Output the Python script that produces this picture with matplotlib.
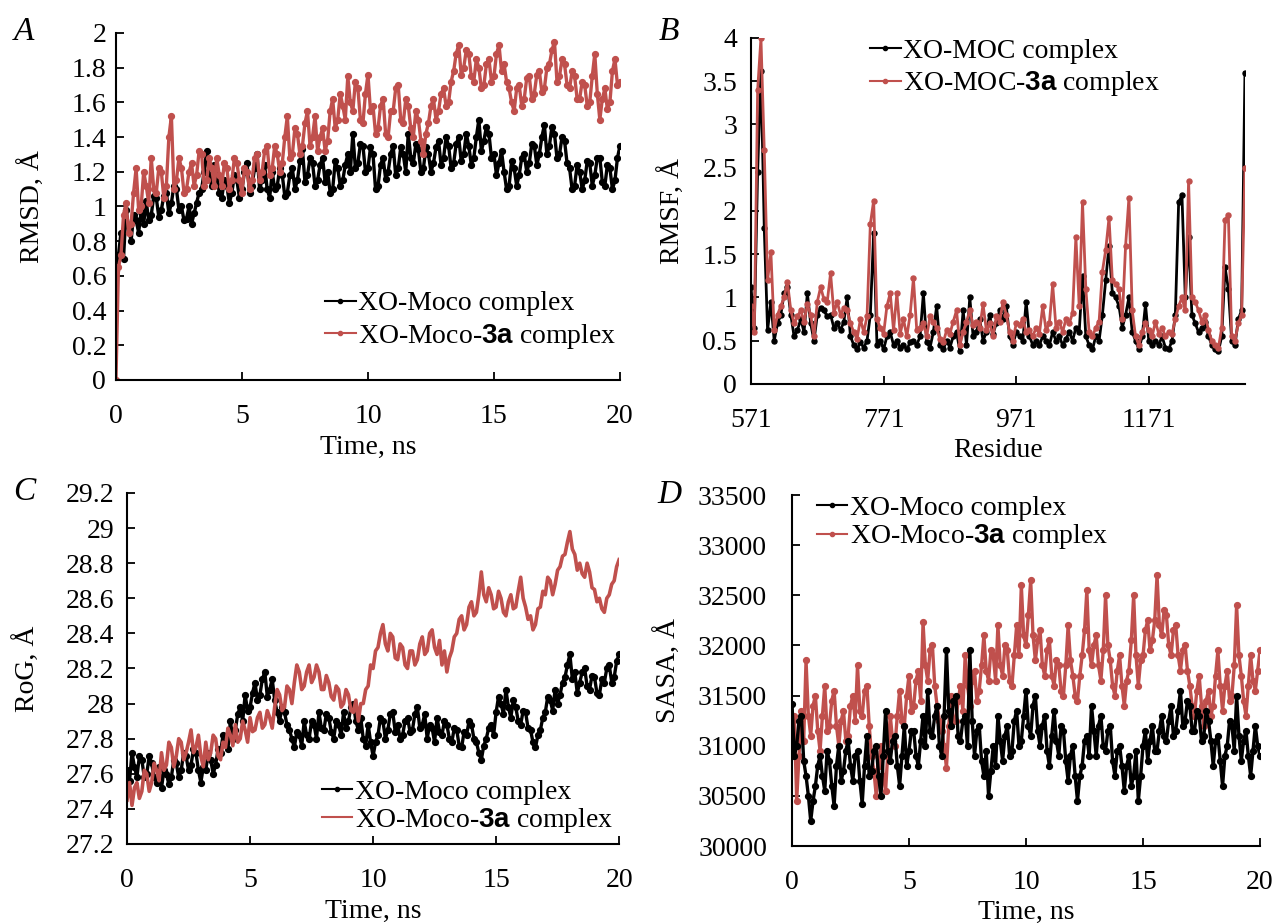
import numpy as np
import matplotlib
matplotlib.use("Agg")
import matplotlib.pyplot as plt

plt.rcParams['font.family'] = ['Liberation Serif', 'DejaVu Serif']
plt.rcParams['mathtext.fontset'] = 'custom'
plt.rcParams['mathtext.rm'] = 'Liberation Serif'
plt.rcParams['mathtext.bf'] = 'Liberation Sans:bold'

# ---- data (upper/lower edges of the noisy bands) ----
# A: RMSD (every 0.1 ns)
rmsd_moco = [0.63, 0.72, 0.85, 0.70, 0.98, 0.88, 0.80, 0.95, 0.92, 0.85,
             0.97, 0.90, 1.03, 0.92, 0.95, 1.06, 1.05, 0.94, 0.98, 1.06,
             1.08, 0.96, 1.02, 1.12, 1.10, 0.98, 1.00, 0.92, 0.93, 1.00,
             0.90, 0.96, 1.02, 1.08, 1.10, 1.20, 1.32, 1.18, 1.12, 1.24,
             1.18, 1.08, 1.05, 1.15, 1.12, 1.02, 1.08, 1.18, 1.15, 1.05,
             1.10, 1.20, 1.25, 1.08, 1.12, 1.22, 1.30, 1.10, 1.15, 1.24,
             1.10, 1.05, 1.20, 1.10, 1.12, 1.22, 1.18, 1.06, 1.08, 1.18,
             1.22, 1.10, 1.15, 1.26, 1.33, 1.14, 1.18, 1.28, 1.25, 1.12,
             1.15, 1.24, 1.28, 1.14, 1.20, 1.08, 1.10, 1.26, 1.22, 1.12,
             1.15, 1.24, 1.30, 1.20, 1.42, 1.22, 1.25, 1.36, 1.35, 1.20,
             1.22, 1.34, 1.30, 1.10, 1.12, 1.24, 1.28, 1.16, 1.20, 1.30,
             1.35, 1.18, 1.22, 1.34, 1.30, 1.20, 1.42, 1.28, 1.25, 1.36,
             1.33, 1.20, 1.22, 1.34, 1.30, 1.20, 1.25, 1.34, 1.38, 1.24,
             1.28, 1.40, 1.35, 1.22, 1.25, 1.36, 1.40, 1.26, 1.30, 1.42,
             1.35, 1.24, 1.28, 1.40, 1.50, 1.32, 1.38, 1.46, 1.42, 1.28,
             1.30, 1.18, 1.25, 1.32, 1.20, 1.10, 1.12, 1.26, 1.22, 1.12,
             1.18, 1.28, 1.30, 1.20, 1.25, 1.36, 1.35, 1.24, 1.30, 1.40,
             1.47, 1.30, 1.35, 1.46, 1.42, 1.28, 1.30, 1.40, 1.38, 1.25,
             1.22, 1.10, 1.12, 1.24, 1.20, 1.10, 1.15, 1.26, 1.25, 1.12,
             1.18, 1.28, 1.28, 1.14, 1.12, 1.24, 1.22, 1.10, 1.15, 1.28,
             1.35]
rmsd_3a = [0.00, 0.65, 0.72, 0.95, 1.02, 0.85, 0.90, 1.08, 1.22, 0.98,
           1.00, 1.20, 1.12, 1.02, 1.28, 1.10, 1.08, 1.22, 1.20, 1.05,
           1.12, 1.40, 1.52, 1.10, 1.15, 1.28, 1.22, 1.08, 1.10, 1.20,
           1.25, 1.12, 1.18, 1.32, 1.30, 1.12, 1.15, 1.28, 1.22, 1.12,
           1.28, 1.18, 1.12, 1.25, 1.22, 1.10, 1.15, 1.28, 1.25, 1.15,
           1.08, 1.22, 1.20, 1.10, 1.15, 1.28, 1.30, 1.15, 1.20, 1.32,
           1.35, 1.18, 1.22, 1.35, 1.30, 1.20, 1.25, 1.40, 1.52, 1.28,
           1.30, 1.45, 1.42, 1.30, 1.35, 1.48, 1.55, 1.35, 1.40, 1.52,
           1.32, 1.40, 1.45, 1.32, 1.38, 1.55, 1.62, 1.45, 1.50, 1.65,
           1.58, 1.50, 1.75, 1.60, 1.55, 1.72, 1.68, 1.50, 1.48, 1.65,
           1.76, 1.55, 1.58, 1.42, 1.45, 1.58, 1.62, 1.42, 1.40, 1.55,
           1.55, 1.68, 1.70, 1.50, 1.48, 1.62, 1.58, 1.45, 1.40, 1.55,
           1.50, 1.38, 1.30, 1.42, 1.48, 1.58, 1.62, 1.50, 1.55, 1.65,
           1.68, 1.58, 1.60, 1.72, 1.78, 1.88, 1.93, 1.76, 1.80, 1.90,
           1.88, 1.75, 1.72, 1.85, 1.80, 1.68, 1.70, 1.82, 1.85, 1.72,
           1.75, 1.88, 1.93, 1.78, 1.82, 1.72, 1.68, 1.60, 1.55, 1.68,
           1.70, 1.58, 1.62, 1.74, 1.75, 1.62, 1.65, 1.76, 1.78, 1.66,
           1.68, 1.80, 1.82, 1.90, 1.95, 1.72, 1.75, 1.85, 1.82, 1.70,
           1.68, 1.78, 1.75, 1.62, 1.62, 1.72, 1.70, 1.58, 1.60, 1.75,
           1.88, 1.65, 1.50, 1.62, 1.68, 1.56, 1.60, 1.78, 1.85, 1.70,
           1.72]

# B: RMSF per residue (every 5 residues from 571)
res_start = 571
rmsf_moc = [1.12, 0.65, 2.45, 3.62, 1.80, 0.62, 0.95, 0.50, 0.70, 0.80,
            1.05, 1.12, 0.80, 0.55, 0.62, 0.75, 0.60, 1.05, 0.70, 0.50,
            0.80, 0.88, 0.85, 0.78, 0.80, 0.65, 0.70, 0.62, 0.72, 1.00,
            0.55, 0.45, 0.40, 0.48, 0.42, 0.50, 0.80, 1.75, 0.45, 0.50,
            0.40, 0.55, 0.60, 0.45, 0.50, 0.42, 0.45, 0.40, 0.48, 0.50,
            0.45, 0.55, 1.05, 0.48, 0.42, 0.60, 0.90, 0.45, 0.40, 0.50,
            0.42, 0.55, 0.60, 0.38, 0.85, 0.45, 1.00, 0.55, 0.60, 0.75,
            0.50, 0.60, 0.80, 0.58, 0.70, 0.85, 0.75, 0.90, 0.55, 0.45,
            0.60, 0.55, 0.50, 0.95, 0.55, 0.45, 0.50, 0.45, 0.55, 0.50,
            0.45, 0.60, 0.50, 0.55, 0.45, 0.52, 0.60, 0.50, 0.65, 0.60,
            1.25, 0.55, 0.45, 0.40, 0.55, 0.50, 0.80, 1.20, 1.60, 1.05,
            1.00, 0.90, 0.65, 0.80, 1.00, 0.60, 0.50, 0.40, 0.55, 0.92,
            0.50, 0.45, 0.50, 0.45, 0.55, 0.42, 0.40, 0.50, 0.80, 2.10,
            2.18, 1.00, 1.70, 0.80, 0.70, 0.60, 0.65, 0.72, 0.55, 0.45,
            0.40, 0.38, 0.55, 1.35, 1.10, 0.50, 0.45, 0.75, 0.85, 3.60]
rmsf_moc_3a = [0.90, 0.60, 3.40, 4.00, 2.70, 1.20, 1.52, 0.62, 0.80, 0.90,
               1.00, 1.18, 0.85, 0.70, 0.78, 0.85, 0.72, 0.92, 0.80, 0.55,
               0.95, 1.12, 0.98, 0.95, 1.28, 0.82, 0.95, 0.80, 0.88, 0.85,
               0.70, 0.60, 0.52, 0.75, 0.60, 0.78, 1.85, 2.12, 0.75, 0.65,
               0.58, 0.90, 1.05, 0.62, 1.05, 0.58, 0.75, 0.55, 0.80, 1.22,
               0.62, 0.65, 0.70, 0.55, 0.78, 0.72, 0.65, 0.52, 0.48, 0.62,
               0.58, 0.72, 0.85, 0.45, 0.60, 0.72, 0.85, 0.68, 0.72, 0.65,
               0.92, 0.62, 0.70, 0.55, 0.78, 0.72, 0.95, 0.80, 0.60, 0.50,
               0.70, 0.68, 0.75, 0.60, 0.62, 0.55, 0.65, 0.58, 0.90, 0.62,
               0.70, 1.15, 0.65, 0.72, 0.60, 0.75, 0.70, 0.82, 1.70, 0.90,
               2.10, 1.10, 0.60, 0.55, 0.65, 0.72, 1.30, 1.55, 1.92, 1.20,
               1.15, 1.10, 0.75, 1.60, 2.15, 0.85, 0.55, 0.45, 0.60, 0.70,
               0.62, 0.55, 0.72, 0.58, 0.65, 0.55, 0.60, 0.58, 0.75, 0.90,
               1.00, 0.85, 2.35, 1.00, 0.95, 0.85, 0.72, 0.80, 0.62, 0.50,
               0.45, 0.42, 0.65, 1.90, 1.95, 0.55, 0.50, 0.70, 0.80, 2.50]

# C: radius of gyration (every 0.1 ns)
rog_moco = [27.62, 27.56, 27.72, 27.64, 27.58, 27.70, 27.68, 27.58, 27.60, 27.70,
            27.66, 27.58, 27.55, 27.64, 27.52, 27.62, 27.60, 27.54, 27.58, 27.68,
            27.66, 27.58, 27.62, 27.72, 27.70, 27.62, 27.65, 27.74, 27.72, 27.62,
            27.55, 27.64, 27.62, 27.72, 27.68, 27.60, 27.65, 27.74, 27.72, 27.82,
            27.80, 27.74, 27.90, 27.80, 27.85, 27.94, 27.98, 27.90, 28.05, 27.96,
            27.98, 28.06, 28.12, 28.02, 28.05, 28.14, 28.18, 28.04, 28.08, 28.14,
            28.02, 27.95, 27.90, 27.98, 27.95, 27.88, 27.85, 27.80, 27.75, 27.84,
            27.82, 27.76, 27.90, 27.82, 27.80, 27.90, 27.88, 27.80, 27.95, 27.86,
            27.85, 27.94, 27.92, 27.84, 27.80, 27.90, 27.88, 27.82, 27.95, 27.86,
            27.90, 27.98, 28.00, 27.90, 27.85, 27.92, 27.80, 27.76, 27.88, 27.78,
            27.70, 27.78, 27.82, 27.92, 27.90, 27.80, 27.85, 27.94, 27.95, 27.84,
            27.88, 27.80, 27.82, 27.90, 27.92, 27.84, 27.85, 27.94, 27.98, 27.86,
            27.88, 27.94, 27.80, 27.88, 27.86, 27.78, 27.92, 27.84, 27.82, 27.90,
            27.88, 27.80, 27.78, 27.86, 27.85, 27.76, 27.75, 27.84, 27.82, 27.90,
            27.88, 27.80, 27.78, 27.72, 27.68, 27.76, 27.80, 27.86, 27.88, 27.82,
            27.95, 28.04, 28.00, 27.94, 28.08, 27.98, 27.92, 28.02, 27.98, 27.90,
            27.88, 27.96, 27.95, 27.86, 27.85, 27.78, 27.75, 27.82, 27.85, 27.92,
            27.95, 28.04, 28.02, 27.96, 28.08, 28.00, 28.05, 28.12, 28.15, 28.22,
            28.28, 28.14, 28.18, 28.06, 28.12, 28.18, 28.20, 28.10, 28.08, 28.16,
            28.15, 28.06, 28.05, 28.14, 28.12, 28.20, 28.22, 28.12, 28.15, 28.24,
            28.28]
rog_3a = [27.45, 27.55, 27.42, 27.52, 27.55, 27.46, 27.50, 27.62, 27.60, 27.50,
          27.55, 27.66, 27.62, 27.56, 27.72, 27.62, 27.65, 27.78, 27.75, 27.64,
          27.70, 27.80, 27.78, 27.68, 27.72, 27.78, 27.85, 27.72, 27.75, 27.82,
          27.70, 27.64, 27.78, 27.68, 27.72, 27.82, 27.80, 27.70, 27.68, 27.78,
          27.75, 27.86, 27.82, 27.76, 27.88, 27.78, 27.80, 27.90, 27.85, 27.78,
          27.92, 27.84, 27.85, 27.92, 27.95, 27.86, 27.88, 27.96, 27.92, 27.86,
          27.98, 28.08, 28.05, 27.96, 27.98, 28.10, 28.08, 28.00, 28.12, 28.22,
          28.18, 28.08, 28.10, 28.18, 28.22, 28.12, 28.15, 28.22, 28.18, 28.08,
          28.08, 28.16, 28.12, 28.04, 28.02, 28.10, 28.08, 27.98, 28.00, 28.08,
          28.05, 27.96, 27.95, 28.02, 27.90, 28.00, 28.00, 28.08, 28.10, 28.22,
          28.20, 28.30, 28.32, 28.40, 28.45, 28.34, 28.30, 28.40, 28.38, 28.26,
          28.25, 28.34, 28.32, 28.22, 28.20, 28.30, 28.30, 28.22, 28.25, 28.34,
          28.38, 28.28, 28.30, 28.40, 28.42, 28.32, 28.28, 28.36, 28.22, 28.30,
          28.18, 28.26, 28.30, 28.38, 28.40, 28.48, 28.50, 28.42, 28.45, 28.55,
          28.58, 28.50, 28.52, 28.62, 28.75, 28.62, 28.58, 28.66, 28.62, 28.54,
          28.55, 28.64, 28.60, 28.52, 28.50, 28.58, 28.62, 28.54, 28.55, 28.64,
          28.72, 28.60, 28.55, 28.48, 28.50, 28.42, 28.45, 28.54, 28.55, 28.64,
          28.62, 28.72, 28.70, 28.62, 28.68, 28.76, 28.78, 28.84, 28.85, 28.92,
          28.98, 28.88, 28.85, 28.76, 28.80, 28.74, 28.72, 28.80, 28.75, 28.66,
          28.65, 28.58, 28.60, 28.54, 28.52, 28.60, 28.62, 28.68, 28.70, 28.78,
          28.82]

# D: SASA (every 0.1 ns)
sasa_moco = [31420, 30900, 31000, 31250, 31300, 30850, 30700, 30500, 30250, 30450,
             30600, 30800, 30900, 30700, 30550, 30950, 30850, 30600, 30400, 30800,
             31000, 30650, 30750, 30950, 31050, 30800, 30650, 30900, 30950, 30650,
             30420, 30800, 31100, 30700, 30750, 30950, 31000, 30700, 30500, 30900,
             31350, 30950, 30850, 31050, 31100, 30800, 30600, 30900, 31200, 30800,
             30950, 31150, 31150, 30900, 30800, 31050, 31300, 31000, 31550, 31150,
             31100, 31300, 31400, 31000, 30900, 31300, 31950, 31350, 31200, 31450,
             31500, 31100, 31050, 31250, 31300, 31000, 31950, 31250, 30900, 31150,
             31200, 30850, 30700, 30950, 30500, 30750, 31000, 30800, 31300, 31050,
             30850, 31100, 31200, 30900, 30950, 31250, 31350, 31000, 31050, 31300,
             31550, 31200, 31100, 31400, 31500, 31150, 31000, 31200, 31300, 30950,
             30800, 31100, 31350, 31050, 30900, 31200, 31150, 30850, 30650, 30900,
             31000, 30700, 30450, 30700, 30800, 31050, 31100, 30900, 31400, 31150,
             30900, 31200, 31300, 31000, 30950, 31150, 31200, 30850, 30700, 30950,
             31000, 30800, 30550, 30800, 30900, 30600, 30700, 30950, 30450, 30700,
             31000, 31150, 30850, 31050, 31200, 30950, 30950, 31150, 31300, 31100,
             31050, 31250, 31400, 31100, 31150, 31350, 31550, 31200, 31250, 31450,
             31400, 31150, 31150, 31350, 31300, 31050, 31100, 31350, 31250, 31050,
             30800, 31050, 31100, 30850, 30600, 30900, 31000, 31250, 31200, 30950,
             31500, 31100, 30850, 31050, 31150, 30900, 30700, 30950, 31200, 31000,
             30900]
sasa_3a = [30900, 31300, 30450, 30900, 31350, 31050, 31850, 31300, 31100, 31400,
           31500, 31150, 30950, 31300, 31600, 31150, 31200, 31450, 31550, 31200,
           31000, 31250, 31350, 31050, 31100, 31400, 31500, 31250, 31800, 31350,
           31300, 31550, 31600, 31200, 30900, 30750, 30500, 30800, 31000, 30700,
           30550, 30950, 31300, 31050, 31000, 31300, 31550, 31250, 31200, 31500,
           31700, 31350, 31400, 31650, 31750, 31450, 32230, 31800, 31650, 31950,
           32000, 31600, 31400, 31250, 31150, 31000, 30780, 31200, 31500, 31250,
           31250, 31450, 31600, 31350, 31900, 31600, 31400, 31650, 31750, 31450,
           31550, 31800, 32100, 31750, 31650, 31950, 31900, 31650, 32200, 31800,
           31700, 32000, 31950, 31650, 31600, 31900, 32200, 31900, 32600, 32100,
           32000, 32300, 32650, 32100, 31850, 32050, 32150, 31800, 31700, 31950,
           32050, 31700, 31600, 31850, 31800, 31550, 31500, 31800, 32200, 31850,
           31700, 31500, 31450, 31700, 31900, 32150, 32550, 31950, 31800, 32000,
           32100, 31800, 31650, 31950, 32500, 32000, 31850, 31600, 31500, 31750,
           31900, 31600, 31400, 31650, 31750, 32050, 32500, 31900, 31600, 31850,
           31900, 32150, 32250, 31950, 32050, 32250, 32700, 32200, 32100, 32350,
           32300, 32000, 31900, 32150, 32200, 31900, 31750, 31950, 32000, 31750,
           31600, 31400, 31300, 31550, 31700, 31400, 31200, 31450, 31550, 31300,
           31400, 31700, 31950, 31600, 31350, 31600, 31750, 31450, 31500, 31800,
           32400, 31900, 31700, 31450, 31300, 31600, 31900, 31650, 31550, 31750,
           31950]

red = '#C0504D'
black = '#000000'


def style_axis(ax, xticks, xticklabels, yticks, yticklabels, xlim, ylim, ypad):
    ax.set_xlim(xlim)
    ax.set_ylim(ylim)
    ax.set_xticks(xticks)
    ax.set_xticklabels(xticklabels)
    ax.set_yticks(yticks)
    ax.set_yticklabels(yticklabels)
    ax.spines['top'].set_visible(False)
    ax.spines['right'].set_visible(False)
    ax.spines['left'].set_linewidth(1.5)
    ax.spines['bottom'].set_linewidth(1.5)
    ax.tick_params(axis='both', direction='in', length=6, width=1.3, labelsize=20)
    ax.tick_params(axis='x', pad=17)
    ax.tick_params(axis='y', pad=ypad)


fig = plt.figure(figsize=(12.77, 9.23), dpi=100)
axA = fig.add_axes([0.0908, 0.5883, 0.3947, 0.3760])
axB = fig.add_axes([0.5881, 0.5840, 0.3868, 0.3749])
axC = fig.add_axes([0.0995, 0.0856, 0.3853, 0.3803])
axD = fig.add_axes([0.6202, 0.0834, 0.3665, 0.3803])

# heavy traces so the zig-zag reads as the dense MD band
mk = dict(marker='o', markersize=4.2, linewidth=2.4)
mk_b = dict(marker='o', markersize=3.6, linewidth=2.0)

# --- A: RMSD
t = np.linspace(0, 20, len(rmsd_moco))
axA.plot(t, rmsd_moco, color=black, label='XO-Moco complex', **mk)
t = np.linspace(0, 20, len(rmsd_3a))
axA.plot(t, rmsd_3a, color=red, label=r'XO-Moco-$\mathbf{3a}$ complex', **mk)
yv = np.round(np.arange(0, 2.01, 0.2), 1)
style_axis(axA, [0, 5, 10, 15, 20], ['0', '5', '10', '15', '20'],
           yv, ['%g' % v for v in yv], (0, 20), (0, 2), 7)
axA.set_ylabel('RMSD, Å', fontsize=20)
axA.set_xlabel('Time, ns', fontsize=20)
axA.legend(loc='center left', bbox_to_anchor=(0.415, 0.170), frameon=False,
           fontsize=20, handlelength=1.1, handletextpad=0.1, labelspacing=0.2,
           borderpad=0, borderaxespad=0)

# --- B: RMSF
r = np.arange(res_start, res_start + 5 * len(rmsf_moc), 5)
axB.plot(r, rmsf_moc, color=black, label='XO-MOC complex', **mk_b)
r = np.arange(res_start, res_start + 5 * len(rmsf_moc_3a), 5)
axB.plot(r, rmsf_moc_3a, color=red, label=r'XO-MOC-$\mathbf{3a}$ complex', **mk_b)
yv = np.arange(0, 4.01, 0.5)
style_axis(axB, [571, 771, 971, 1171], ['571', '771', '971', '1171'],
           yv, ['%g' % v for v in yv], (571, 1316), (0, 4), 10)
axB.set_ylabel('RMSF, Å', fontsize=20)
axB.set_xlabel('Residue', fontsize=20)
axB.legend(loc='center left', bbox_to_anchor=(0.241, 0.912), frameon=False,
           fontsize=20, handlelength=1.1, handletextpad=0.1, labelspacing=0.2,
           borderpad=0, borderaxespad=0)

# --- C: RoG
t = np.linspace(0, 20, len(rog_moco))
axC.plot(t, rog_moco, color=black, label='XO-Moco complex', **mk)
t = np.linspace(0, 20, len(rog_3a))
axC.plot(t, rog_3a, color=red, linewidth=2.6, label=r'XO-Moco-$\mathbf{3a}$ complex')
yv = np.round(np.arange(27.2, 29.21, 0.2), 1)
style_axis(axC, [0, 5, 10, 15, 20], ['0', '5', '10', '15', '20'],
           yv, ['%g' % v for v in yv], (0, 20), (27.2, 29.2), 9)
axC.set_ylabel('RoG, Å', fontsize=20)
axC.set_xlabel('Time, ns', fontsize=20)
axC.legend(loc='center left', bbox_to_anchor=(0.396, 0.105), frameon=False,
           fontsize=20, handlelength=1.1, handletextpad=0.1, labelspacing=0.02,
           borderpad=0, borderaxespad=0)

# --- D: SASA
t = np.linspace(0, 20, len(sasa_3a))
axD.plot(t, sasa_3a, color=red, label=r'XO-Moco-$\mathbf{3a}$ complex', **mk)
t = np.linspace(0, 20, len(sasa_moco))
axD.plot(t, sasa_moco, color=black, label='XO-Moco complex', **mk)
yv = np.arange(30000, 33501, 500)
style_axis(axD, [0, 5, 10, 15, 20], ['0', '5', '10', '15', '20'],
           yv, ['%d' % v for v in yv], (0, 20), (30000, 33500), 18)
axD.set_ylabel('SASA, Å', fontsize=20)
axD.set_xlabel('Time, ns', fontsize=20)
h, l = axD.get_legend_handles_labels()
axD.legend(h[::-1], l[::-1], loc='center left', bbox_to_anchor=(0.053, 0.919),
           frameon=False, fontsize=20, handlelength=1.1, handletextpad=0.1,
           labelspacing=0.05, borderpad=0, borderaxespad=0)

# legend handles stay thin like in the reference
for ax in (axA, axB, axC, axD):
    for line in ax.get_legend().get_lines():
        line.set_linewidth(1.5)
        line.set_markersize(3)

# axis label positions
axA.yaxis.set_label_coords(-0.165, 0.5)
axB.yaxis.set_label_coords(-0.16, 0.5)
axC.yaxis.set_label_coords(-0.203, 0.5)
axD.yaxis.set_label_coords(-0.265, 0.5)
axA.xaxis.set_label_coords(0.5, -0.193)
axB.xaxis.set_label_coords(0.5, -0.191)
axC.xaxis.set_label_coords(0.5, -0.191)
axD.xaxis.set_label_coords(0.5, -0.188)
for ax in (axA, axB, axC, axD):
    ax.yaxis.label.set_va('center')
    ax.xaxis.label.set_va('center')

# panel letters
fig.text(24 / 1277, 1 - 32 / 923, 'A', fontsize=24, style='italic', ha='center', va='center')
fig.text(669 / 1277, 1 - 32 / 923, 'B', fontsize=24, style='italic', ha='center', va='center')
fig.text(24 / 1277, 1 - 492 / 923, 'C', fontsize=24, style='italic', ha='center', va='center')
fig.text(669 / 1277, 1 - 495 / 923, 'D', fontsize=24, style='italic', ha='center', va='center')

fig.savefig('out.png', dpi=100)
